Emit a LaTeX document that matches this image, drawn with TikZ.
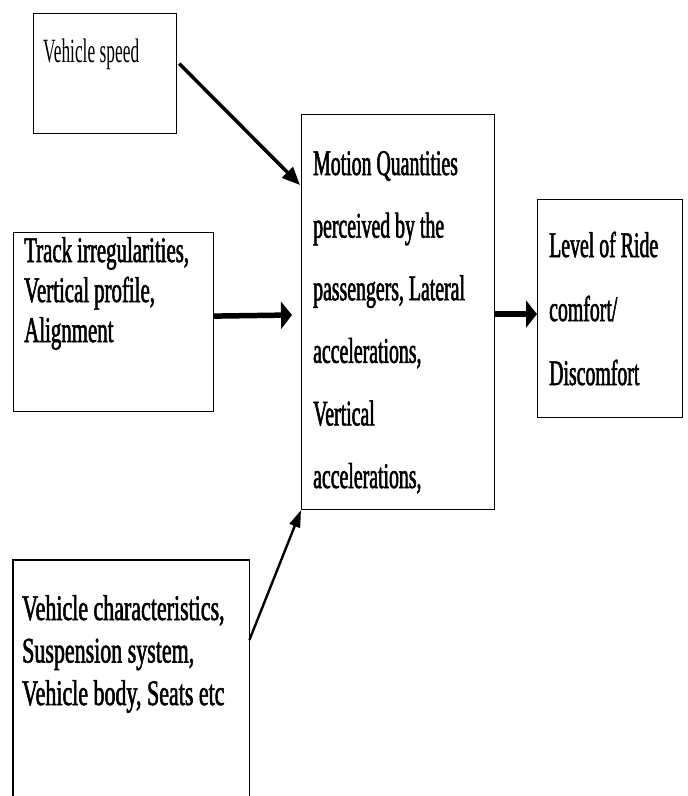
\documentclass[tikz,border=0pt]{standalone}
\usepackage{fontspec}
\setmainfont{Liberation Serif}
\newfontfamily\narrowmid[FakeStretch=0.55,FakeBold=1.5]{Liberation Serif}
\newfontfamily\narrowtrk[FakeStretch=0.58,FakeBold=1.5]{Liberation Serif}
\newfontfamily\narrowveh[FakeStretch=0.61,FakeBold=1.5]{Liberation Serif}
\newfontfamily\narrowspd[FakeStretch=0.51]{Liberation Serif}
\newcommand\gapset[1]{\fontdimen2\font=#1pt\relax\fontdimen3\font=0pt\relax
  \fontdimen4\font=0pt\relax\spaceskip=#1pt\relax\xspaceskip=#1pt\relax}
\usetikzlibrary{arrows.meta,calc,positioning}
\tikzset{
  blk_box/.style = {draw, line width=1.2pt, inner sep=0pt, anchor=north west},
  blk_txt/.style = {anchor=base west, inner sep=0pt, align=left, text width=#1},
  blk_txt/.default = 220pt
}

\begin{document}
\begin{tikzpicture}[x=1pt,y=-1pt,
        	arr_thick/.style={line width=5.5pt, -{Triangle[length=11pt,width=27pt]}},
        	arr_mid/.style={line width=3.5pt, -{Triangle[length=18pt,width=15pt]}},
        	arr_thin/.style={line width=2.4pt, -{Triangle[length=17pt,width=11pt]}},
        	f_spd/.style={font=\narrowspd\fontsize{34}{40}\selectfont},
        	f_trk/.style={font=\narrowtrk\fontsize{36}{40}\selectfont},
        	f_veh/.style={font=\narrowveh\fontsize{36}{42.5}\selectfont},
        	f_mid/.style={font=\narrowmid\fontsize{36}{62.6}\selectfont},
        	f_lvl/.style={font=\narrowmid\fontsize{36}{64}\selectfont}]
            \useasboundingbox (0,0) rectangle (688,796);
            % boxes
            \node [blk_box, minimum width=143pt, minimum height=120pt] (speed) at (33,13) {};
            \node [blk_box, minimum width=200pt, minimum height=179pt] (track) at (13,232) {};
            \node [anchor=north west, inner sep=0pt, minimum width=236pt, minimum height=236pt] (vehicle) at (13,560) {};
            \draw [line width=1.2pt] (vehicle.south west) |- (vehicle.north east) -- (vehicle.south east);
            \node [blk_box, minimum width=193pt, minimum height=395pt] (motion) at (301,114) {};
            \node [blk_box, minimum width=145pt, minimum height=218pt] (level) at (537,199) {};
            % texts
            \node [blk_txt, f_spd] (speed_t) at ($(speed.north west)+(10,49)$) {\gapset{4.5}Vehicle speed};
            \node [blk_txt, f_trk] (track_t) at ($(track.north west)+(11,30)$)
                {\gapset{5}Track irregularities,\\ Vertical profile,\\ Alignment};
            \node [blk_txt, f_veh] (vehicle_t) at ($(vehicle.north west)+(9,60)$)
                {\gapset{5.5}Vehicle characteristics,\\ Suspension system,\\ Vehicle body, Seats etc};
            \node [blk_txt, f_mid] (motion_t) at ($(motion.north west)+(12,61)$)
                {\gapset{5}Motion Quantities\\ perceived by the\\ passengers, Lateral\\ accelerations,\\ Vertical\\ accelerations,};
            \node [blk_txt, f_lvl] (level_t) at ($(level.north west)+(12,58)$)
                {\gapset{5}Level of Ride\\ comfort/\\ Discomfort};
            % arrows
            \draw [arr_mid] ($(speed.east)+(2,-10)$) -- ($(motion.north west)+(-1,71)$);
            \draw [arr_thick] ($(track.east)+(0,-6)$) -- ($(motion.north west)+(-9,201)$);
            \draw [arr_thin] ($(vehicle.north east)+(0,80)$) -- (motion.south west);
            \draw [arr_thick] ($(motion.east)+(0,2)$) -- ($(level.west)+(0,5.5)$);
        \end{tikzpicture}
\end{document}
